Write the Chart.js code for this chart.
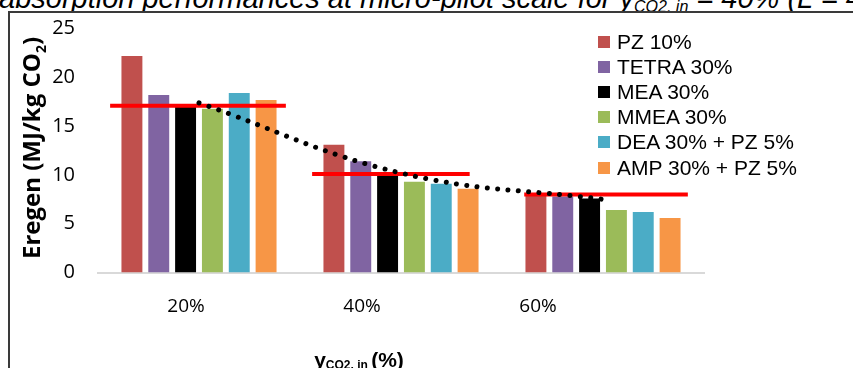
<!DOCTYPE html>
<html><head><meta charset="utf-8">
<script src="https://cdn.jsdelivr.net/npm/chart.js@4.4.0/dist/chart.umd.min.js"></script>
<style>
html,body{margin:0;padding:0;background:#fff;width:853px;height:368px;overflow:hidden;position:relative;font-family:"Liberation Sans",Arial,sans-serif;}
#title{position:absolute;left:-1px;top:-16px;white-space:nowrap;font-style:italic;font-size:29px;color:#000;line-height:1;}
#title sub{font-size:16px;vertical-align:-4px;}
#frame{position:absolute;left:8px;top:11px;width:900px;height:400px;border-left:2px solid #3a3a3a;border-top:2px solid #3a3a3a;background:#fff;}
#c{position:absolute;left:0;top:0;}
#legend{position:absolute;left:598px;top:29px;}
.li{height:25.2px;display:flex;align-items:center;font-size:21px;color:#000;white-space:nowrap;}
.sw{width:12px;height:12px;margin-right:7px;flex:none;}
</style></head>
<body>
<div id="title">absorption performances at micro-pilot scale for y<sub>CO2, in</sub> = 40% (L = 4</div>
<div id="frame"></div>
<canvas id="c" width="853" height="368"></canvas>
<div id="legend"></div>
<script>
// ---- data ----
const categories = ['20%', '40%', '60%'];
const seriesNames = ['PZ 10%', 'TETRA 30%', 'MEA 30%', 'MMEA 30%', 'DEA 30% + PZ 5%', 'AMP 30% + PZ 5%'];
const pz10 = [22.2, 13.1, 7.9];
const tetra30 = [18.2, 11.4, 7.8];
const mea30 = [17.0, 9.9, 7.6];
const mmea30 = [16.8, 9.3, 6.4];
const dea30pz5 = [18.4, 9.1, 6.2];
const amp30pz5 = [17.7, 8.6, 5.6];
const trendValues = [17.4, 10.2, 7.5];
const averageValues = [17.1, 10.1, 8.0];
const averageFrom = [-0.44, -0.44, -0.39];
const averageTo = [0.43, 0.34, 0.42];
const yTicks = [0, 5, 10, 15, 20, 25];

// ---- styles ----
const seriesColors = ['#C0504D', '#8064A2', '#000000', '#9BBB59', '#4BACC6', '#F79646'];
const seriesValues = [pz10, tetra30, mea30, mmea30, dea30pz5, amp30pz5];

const datasets = [];
seriesValues.forEach((vals, k) => {
  datasets.push({
    type: 'bar', label: seriesNames[k],
    data: categories.map((c, i) => ({x: i, y: vals[i]})),
    backgroundColor: seriesColors[k], borderWidth: 0,
    xAxisID: 'x', yAxisID: 'y', order: 2,
    categoryPercentage: 0.797, barPercentage: 0.78
  });
});
averageValues.forEach((v, i) => {
  datasets.push({
    type: 'line', label: 'avg ' + categories[i],
    data: [{x: i + averageFrom[i], y: v}, {x: i + averageTo[i], y: v}],
    borderColor: '#FF0000', borderWidth: 4, pointRadius: 0,
    xAxisID: 'x', yAxisID: 'y', order: 1
  });
});
datasets.push({
  type: 'line', label: 'trend',
  data: categories.map((c, i) => ({x: i, y: trendValues[i]})),
  borderColor: '#000', borderWidth: 5, borderDash: [0.001, 10.4], borderCapStyle: 'round',
  tension: 0.4, pointRadius: 0, xAxisID: 'x', yAxisID: 'y', order: 0
});

const titlePlugin = {
  id: 'axisTitles',
  afterDraw(chart) {
    const ctx = chart.ctx;
    ctx.save();
    ctx.fillStyle = '#000';
    ctx.translate(32, 148);
    ctx.rotate(-Math.PI / 2);
    const big = 'bold 24px "Open Sans"', small = 'bold 14px "Open Sans"';
    const parts = [['Eregen (MJ/kg CO', big, 0], ['2', small, 6], [')', big, 0]];
    let w = 0;
    parts.forEach(p => { ctx.font = p[1]; w += ctx.measureText(p[0]).width; });
    let x = -w / 2;
    ctx.textBaseline = 'alphabetic';
    parts.forEach(p => { ctx.font = p[1]; ctx.fillText(p[0], x, 8 + p[2]); x += ctx.measureText(p[0]).width; });
    ctx.restore();
    ctx.save();
    ctx.fillStyle = '#000';
    ctx.textBaseline = 'alphabetic';
    ctx.textAlign = 'left';
    const xb = 'bold 21px "Liberation Sans"', xs = 'bold 12px "Liberation Sans"';
    const xparts = [['y', xb, 0], ['CO2, in ', xs, 2], ['(%)', xb, 0]];
    let xw = 0;
    xparts.forEach(p => { ctx.font = p[1]; xw += ctx.measureText(p[0]).width; });
    let xx = 359 - xw / 2;
    xparts.forEach(p => { ctx.font = p[1]; ctx.fillText(p[0], xx, 367 + p[2]); xx += ctx.measureText(p[0]).width; });
    ctx.restore();
  }
};

new Chart(document.getElementById('c'), {
  data: {datasets},
  options: {
    responsive: false, animation: false,
    layout: {padding: {left: 0, right: 149, top: 28.75, bottom: 0}, autoPadding: false},
    plugins: {legend: {display: false}, tooltip: {enabled: false}},
    scales: {
      x: {type: 'linear', display: false, offset: false, min: -0.5, max: 2.5,
          grid: {offset: false},
          afterBuildTicks: s => { s.ticks = categories.map((c, i) => ({value: i})); }},
      xt: {
        type: 'linear', position: 'bottom', offset: false, min: -0.5, max: 2.943,
        afterBuildTicks: s => { s.ticks = categories.map((c, i) => ({value: i})); },
        afterFit: s => { s.height = 95.5; s.paddingLeft = 0; s.paddingRight = 0; },
        grid: {display: false, drawTicks: false, offset: false},
        border: {display: true, color: '#D9D9D9', width: 2},
        ticks: {callback: (v, i) => categories[i], color: '#000', padding: 23,
                font: {family: '"Open Sans"', size: 19}, maxRotation: 0, autoSkip: false}
      },
      y: {
        type: 'linear', position: 'left', min: 0, max: 25,
        afterBuildTicks: s => { s.ticks = yTicks.map(v => ({value: v})); },
        afterFit: s => { s.width = 98; s.paddingTop = 0; s.paddingBottom = 0; },
        grid: {display: false, drawTicks: false},
        border: {display: false},
        ticks: {color: '#000', padding: 23, font: {family: '"Open Sans"', size: 20}}
      }
    }
  },
  plugins: [titlePlugin]
});

const lg = document.getElementById('legend');
seriesNames.forEach((n, k) => {
  const d = document.createElement('div'); d.className = 'li';
  const s = document.createElement('span'); s.className = 'sw'; s.style.background = seriesColors[k];
  const t = document.createElement('span'); t.textContent = n;
  d.appendChild(s); d.appendChild(t); lg.appendChild(d);
});
</script>
</body></html>
